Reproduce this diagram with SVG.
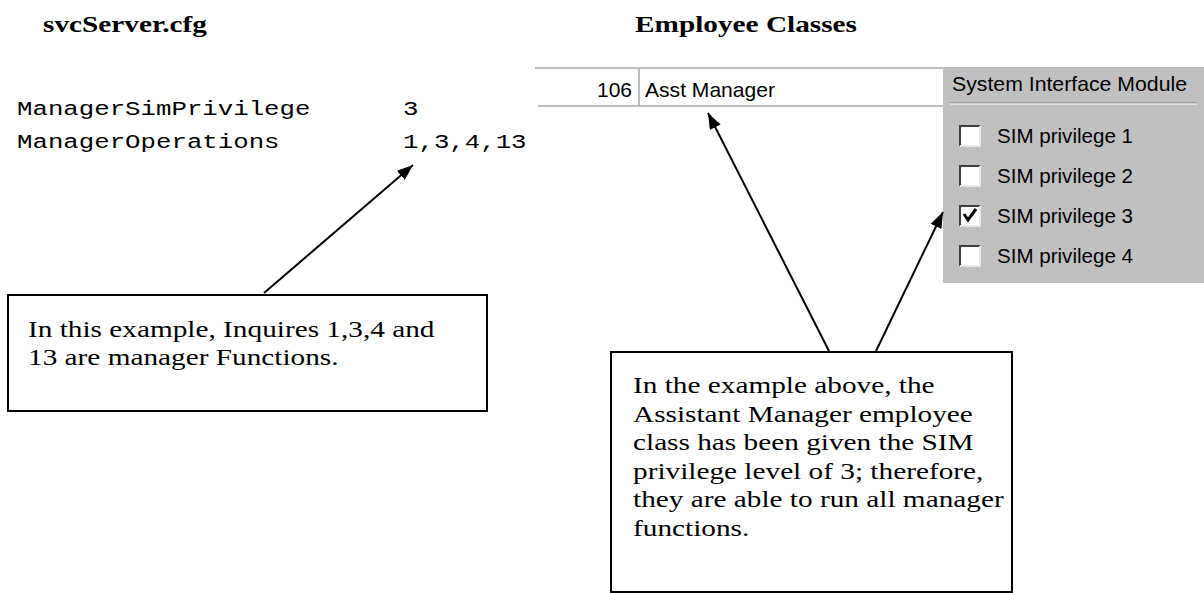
<svg xmlns="http://www.w3.org/2000/svg" width="1204" height="593" viewBox="0 0 1204 593">
<style>
.title{font-family:"Liberation Serif",serif;font-weight:bold;font-size:24px;fill:#000}
.body{font-family:"Liberation Serif",serif;font-size:24px;fill:#000}
.mono{font-family:"Liberation Mono",monospace;font-size:21px;fill:#000}
.ui{font-family:"Liberation Sans",sans-serif;font-size:21px;fill:#000}
.box{fill:#fff;stroke:#000;stroke-width:2}
.conn{stroke:#000;stroke-width:2;fill:none;marker-end:url(#ah)}
.tline{stroke:#bdbdbd;stroke-width:2}
.cb{fill:#fff;stroke:none}
.cbd{stroke:#404040;stroke-width:2;fill:none}
.cbl{stroke:#e8e8e8;stroke-width:2;fill:none}
</style>
<defs>
<marker id="ah" markerUnits="userSpaceOnUse" markerWidth="18" markerHeight="14" refX="16" refY="6" orient="auto">
<path d="M0,0 L16,6 L0,12 Z" fill="#000"/>
</marker>
</defs>
<rect width="1204" height="593" fill="#fff"/>

<g id="svc-title"><text class="title" transform="translate(43,0) scale(1.22,1)" y="32">svcServer.cfg</text></g>
<g id="emp-title"><text class="title" transform="translate(635,0) scale(1.22,1)" y="32">Employee Classes</text></g>

<g id="config">
<text class="mono" transform="translate(17,0) scale(1.226,1)" y="115">ManagerSimPrivilege</text>
<text class="mono" transform="translate(403,0) scale(1.226,1)" y="115">3</text>
<text class="mono" transform="translate(17,0) scale(1.226,1)" y="148">ManagerOperations</text>
<text class="mono" transform="translate(403,0) scale(1.226,1)" y="148">1,3,4,13</text>
</g>

<g id="employee-row">
<line class="tline" x1="535" y1="68" x2="943" y2="68"/>
<line class="tline" x1="538" y1="106" x2="943" y2="106"/>
<line class="tline" x1="639" y1="68" x2="639" y2="106"/>
<text class="ui" x="632" y="97" text-anchor="end" textLength="35" lengthAdjust="spacingAndGlyphs">106</text>
<text class="ui" x="645" y="97" textLength="130" lengthAdjust="spacingAndGlyphs">Asst Manager</text>
</g>

<g id="sim-panel">
<rect x="943" y="67" width="261" height="216" fill="#c0c0c0"/>
<text class="ui" x="952" y="91" textLength="235" lengthAdjust="spacingAndGlyphs">System Interface Module</text>
<line x1="950" y1="103" x2="1197" y2="103" stroke="#808080" stroke-width="1"/>
<line x1="950" y1="104" x2="1197" y2="104" stroke="#ffffff" stroke-width="1"/>
<g id="cb1">
<rect class="cb" x="959" y="125" width="21" height="21"/>
<path class="cbd" d="M960,146 V126 H980"/>
<path class="cbl" d="M960,146 H980 V126"/>
<text class="ui" x="997" y="143" textLength="136" lengthAdjust="spacingAndGlyphs">SIM privilege 1</text>
</g>
<g id="cb2">
<rect class="cb" x="959" y="165" width="21" height="21"/>
<path class="cbd" d="M960,186 V166 H980"/>
<path class="cbl" d="M960,186 H980 V166"/>
<text class="ui" x="997" y="183" textLength="136" lengthAdjust="spacingAndGlyphs">SIM privilege 2</text>
</g>
<g id="cb3">
<rect class="cb" x="959" y="205" width="21" height="21"/>
<path class="cbd" d="M960,226 V206 H980"/>
<path class="cbl" d="M960,226 H980 V206"/>
<path d="M964,214 L968,220 L976,209" stroke="#000" stroke-width="3" fill="none"/>
<text class="ui" x="997" y="223" textLength="136" lengthAdjust="spacingAndGlyphs">SIM privilege 3</text>
</g>
<g id="cb4">
<rect class="cb" x="959" y="245" width="21" height="21"/>
<path class="cbd" d="M960,266 V246 H980"/>
<path class="cbl" d="M960,266 H980 V246"/>
<text class="ui" x="997" y="263" textLength="136" lengthAdjust="spacingAndGlyphs">SIM privilege 4</text>
</g>
</g>

<g id="note-left">
<rect class="box" x="8" y="295" width="479" height="116"/>
<text class="body" transform="translate(28,0) scale(1.22,1)"><tspan x="0" y="337">In this example, Inquires 1,3,4 and</tspan><tspan x="0" y="365">13 are manager Functions.</tspan></text>
</g>

<g id="note-right">
<rect class="box" x="611" y="352" width="401" height="240"/>
<text class="body" transform="translate(633,0) scale(1.22,1)"><tspan x="0" y="393">In the example above, the</tspan><tspan x="0" y="422">Assistant Manager employee</tspan><tspan x="0" y="450">class has been given the SIM</tspan><tspan x="0" y="479">privilege level of 3; therefore,</tspan><tspan x="0" y="507">they are able to run all manager</tspan><tspan x="0" y="536">functions.</tspan></text>
</g>

<g id="connectors">
<line class="conn" x1="264" y1="293" x2="413" y2="165"/>
<line class="conn" x1="829" y1="351" x2="708" y2="113"/>
<line class="conn" x1="876" y1="351" x2="943" y2="212"/>
</g>
</svg>
